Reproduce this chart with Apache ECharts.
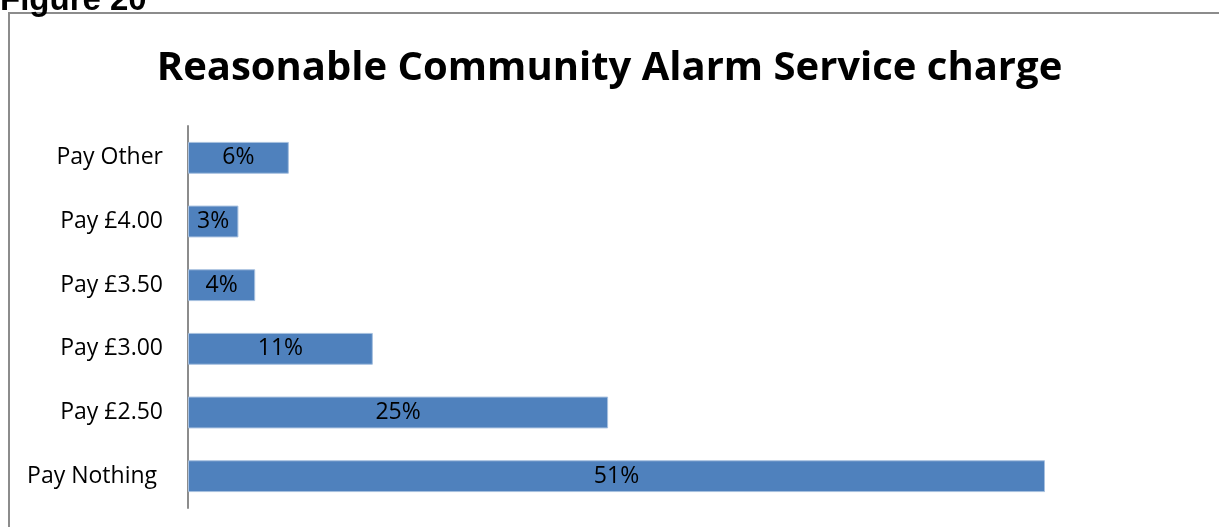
<!DOCTYPE html>
<html>
<head>
<meta charset="utf-8">
<script src="https://cdn.jsdelivr.net/npm/echarts@6/dist/echarts.min.js"></script>
<style>
  html, body { margin: 0; padding: 0; background: #ffffff; }
  #chart { width: 1219px; height: 527px; }
</style>
</head>
<body>
<div id="chart"></div>
<script>
// Responses: preferred monthly charge for the community alarm service
const categories = ['Pay Nothing ', 'Pay £2.50', 'Pay £3.00', 'Pay £3.50', 'Pay £4.00', 'Pay Other'];
const percentages = [51, 25, 11, 4, 3, 6];

const chart = echarts.init(document.getElementById('chart'), null, { renderer: 'canvas' });

chart.setOption({
  backgroundColor: '#ffffff',
  animation: false,
  graphic: [
    {
      type: 'rect',
      shape: { x: 9, y: 13, width: 1240, height: 600 },
      style: { fill: 'none', stroke: '#8c8c8c', lineWidth: 2 },
      silent: true
    },
    {
      type: 'text',
      x: 0,
      y: 1,
      style: {
        text: 'Figure 20',
        font: 'bold 33px "Liberation Sans", sans-serif',
        fill: '#000',
        verticalAlign: 'middle'
      }
    }
  ],
  title: {
    text: 'Reasonable Community Alarm Service charge',
    left: 'center',
    top: 44,
    textStyle: { fontFamily: '"Open Sans", sans-serif', fontWeight: 'bold', fontSize: 40, color: '#000' }
  },
  grid: { left: 188, right: 174, top: 126, bottom: 19, containLabel: false },
  xAxis: {
    type: 'value',
    min: 0,
    max: 51,
    show: false
  },
  yAxis: {
    type: 'category',
    data: categories,
    axisLine: { show: true, lineStyle: { color: '#8c8c8c', width: 2 } },
    axisTick: { show: false },
    axisLabel: { fontFamily: '"Open Sans", sans-serif', fontSize: 23, color: '#000', margin: 25 }
  },
  series: [{
    type: 'bar',
    data: percentages,
    barCategoryGap: '50%',
    itemStyle: { color: '#4f81bd', borderColor: '#a7c0df', borderWidth: 1 },
    label: {
      show: true,
      position: 'inside',
      formatter: '{c}%',
      fontFamily: '"Open Sans", sans-serif',
      fontSize: 23,
      color: '#000'
    }
  }]
});
</script>
</body>
</html>
